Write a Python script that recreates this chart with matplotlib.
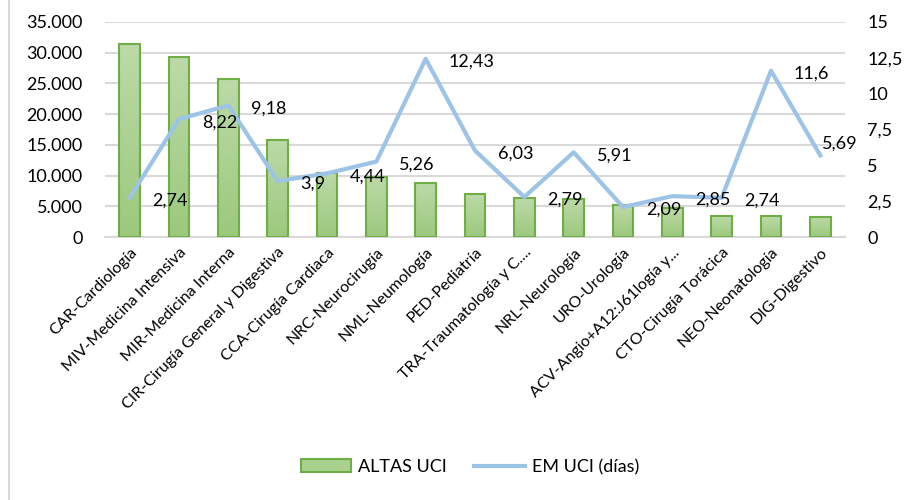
import numpy as np
import matplotlib
matplotlib.use("Agg")
import matplotlib.pyplot as plt
from matplotlib.lines import Line2D
from matplotlib.patches import Patch
from matplotlib.ticker import FuncFormatter

plt.rcParams['font.family'] = ['Lato', 'DejaVu Sans']

categories = ["CAR-Cardiología", "MIV-Medicina Intensiva", "MIR-Medicina Interna",
              "CIR-Cirugía General y Digestiva", "CCA-Cirugía Cardiaca",
              "NRC-Neurocirugía", "NML-Neumología", "PED-Pediatría",
              "TRA-Traumatología y C....", "NRL-Neurología", "URO-Urología",
              "ACV-Angio+A12:J61logía y...", "CTO-Cirugía Torácica",
              "NEO-Neonatología", "DIG-Digestivo"]
altas = [31400, 29300, 25700, 15800, 10400, 9800, 8800, 7000, 6300, 6150,
         5200, 4700, 3400, 3400, 3300]
estancia = [2.74, 8.22, 9.18, 3.9, 4.44, 5.26, 12.43, 6.03, 2.79, 5.91,
            2.09, 2.85, 2.74, 11.6, 5.69]
est_labels = ["2,74", "8,22", "9,18", "3,9", "4,44", "5,26", "12,43", "6,03",
              "2,79", "5,91", "2,09", "2,85", "2,74", "11,6", "5,69"]

fig = plt.figure(figsize=(9.17, 5), dpi=100)
ax = fig.add_axes([105/917, 1-237/500, 740/917, 215/500])
ax2 = ax.twinx()

x = np.arange(len(categories))
bars = ax.bar(x, altas, width=0.42, color='#a9d18e', edgecolor='#70ad47',
              linewidth=1.5, zorder=2)

# vertical gradient inside each bar
grad = np.linspace(0, 1, 256).reshape(-1, 1)
cmap = matplotlib.colors.LinearSegmentedColormap.from_list('g', ['#9cc97d', '#bcdaa8'])
for b in bars:
    x0, y0 = b.get_x(), b.get_y()
    w, h = b.get_width(), b.get_height()
    im = ax.imshow(grad, extent=[x0, x0 + w, y0, y0 + h], origin='lower',
                   cmap=cmap, aspect='auto', zorder=2)
    im.set_clip_path(b)
    b.set_facecolor('none')
    b.set_zorder(3)

ax.set_xlim(-0.5, len(categories) - 0.5)
ax.set_ylim(0, 35000)
ax.set_yticks(np.arange(0, 35001, 5000))
ax.yaxis.set_major_formatter(FuncFormatter(lambda v, p: f"{int(v):,}".replace(",", ".")))
ax.grid(axis='y', color='#d9d9d9', linewidth=1.5, zorder=0)
ax.set_axisbelow(True)
for s in ax.spines.values():
    s.set_visible(False)
ax.spines['bottom'].set_visible(True)
ax.spines['bottom'].set_color('#d9d9d9')
ax.spines['bottom'].set_linewidth(1.5)
ax.tick_params(axis='both', length=0, labelsize=13, colors='black')
ax.tick_params(axis='y', pad=16)
ax.set_xticks(x)
ax.set_xticklabels(categories, rotation=45, ha='right', rotation_mode='anchor',
                   fontsize=11.5)
ax.tick_params(axis='x', pad=6)

ax2.plot(x, estancia, color='#9dc3e6', linewidth=3, zorder=4)
ax2.set_ylim(0, 15)
ax2.set_yticks([0, 2.5, 5, 7.5, 10, 12.5, 15])
ax2.yaxis.set_major_formatter(FuncFormatter(lambda v, p: f"{v:g}".replace(".", ",")))
ax2.tick_params(axis='y', length=0, labelsize=13, pad=16)
for s in ax2.spines.values():
    s.set_visible(False)

for i, (v, lab) in enumerate(zip(estancia, est_labels)):
    if i == len(estancia) - 1:
        off = (2, 12)
    else:
        off = (23, -3)
    ax2.annotate(lab, (i, v), xytext=off, textcoords='offset pixels',
                 ha='left', va='center', fontsize=13, zorder=5)

handles = [Patch(facecolor='#a9d18e', edgecolor='#70ad47', linewidth=1.5),
           Line2D([0], [0], color='#9dc3e6', linewidth=3)]
fig.legend(handles, ['ALTAS UCI', 'EM UCI (días)'], loc='center',
           bbox_to_anchor=(470/917, 1-467/500), ncol=2, frameon=False,
           fontsize=13, handlelength=2.8, handletextpad=0.4, columnspacing=1.5)

fig.add_artist(Line2D([9/917, 9/917], [0, 1], color='#d9d9d9', linewidth=1.5))

fig.savefig('out.png', dpi=100, facecolor='white')
